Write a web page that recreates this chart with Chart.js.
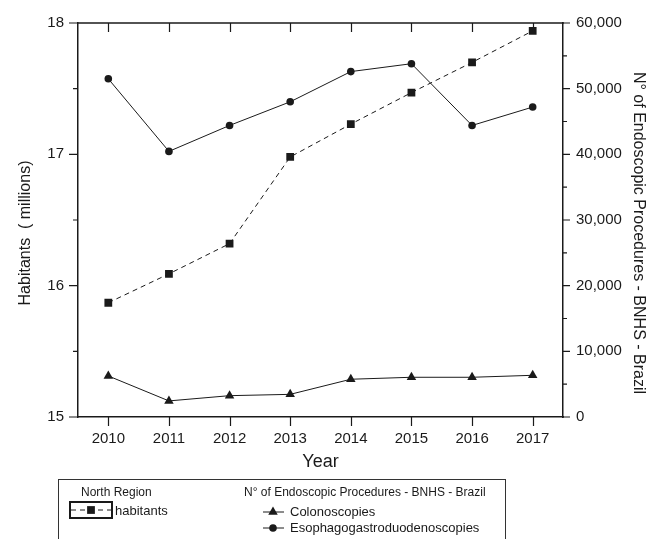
<!DOCTYPE html>
<html>
<head>
<meta charset="utf-8">
<script src="https://cdn.jsdelivr.net/npm/chart.js@4.4.1/dist/chart.umd.min.js"></script>
<style>
    html, body { margin: 0; padding: 0; background: #fff; }
    #wrap { width: 652px; height: 539px; }
</style>
</head>
<body>
<div id="wrap"><canvas id="chart" width="652" height="539"></canvas></div>
<script>
var years = ['2010', '2011', '2012', '2013', '2014', '2015', '2016', '2017'];
// North Region population, millions
var habitants = [15.87, 16.09, 16.32, 16.98, 17.23, 17.47, 17.70, 17.94];
// procedures per year (BNHS)
var colonoscopies = [6250, 2450, 3250, 3450, 5750, 6050, 6050, 6350];
var egd = [51500, 40450, 44400, 48000, 52600, 53800, 44400, 47200];

var leftMin = 15, leftMax = 18, leftStep = 1, leftMinor = 0.5;
var rightMin = 0, rightMax = 60000, rightStep = 10000, rightMinor = 5000;

var leftTitle = 'Habitants  ( millions)';
var rightTitle = 'N\u00b0 of Endoscopic Procedures - BNHS - Brazil';

(function () {
    var ink = '#1a1a1a';
    var fontFamily = '"Liberation Sans", Arial, sans-serif';

    function drawMarker(ctx, style, x, y, r) {
        ctx.beginPath();
        if (style === 'rect') {
            var s = Math.SQRT1_2 * r;
            ctx.rect(x - s, y - s, 2 * s, 2 * s);
        } else if (style === 'triangle') {
            ctx.moveTo(x, y - r);
            ctx.lineTo(x + r * 0.866, y + r / 2);
            ctx.lineTo(x - r * 0.866, y + r / 2);
            ctx.closePath();
        } else {
            ctx.arc(x, y, r, 0, Math.PI * 2);
        }
        ctx.fill();
    }

    // ticks on all four sides, with minor ticks on the y axes
    var frameTicks = {
        id: 'frameTicks',
        afterDraw: function (chart) {
            var ctx = chart.ctx;
            var a = chart.chartArea;
            var x = chart.scales.x, y = chart.scales.y, y1 = chart.scales.y1;
            ctx.save();
            ctx.strokeStyle = ink;
            ctx.lineWidth = 1.5;
            ctx.beginPath();
            ctx.moveTo(a.left - 0.75, a.top);
            ctx.lineTo(a.right + 0.75, a.top);
            ctx.stroke();

            ctx.lineWidth = 1.2;
            ctx.beginPath();
            years.forEach(function (yr, i) {
                var px = Math.round(x.getPixelForValue(i)) + 0.5;
                ctx.moveTo(px, a.bottom);
                ctx.lineTo(px, a.bottom + 9);
                ctx.moveTo(px, a.top);
                ctx.lineTo(px, a.top + 9);
            });
            var v, py, len;
            for (v = leftMin; v <= leftMax + 1e-9; v += leftMinor) {
                py = y.getPixelForValue(v);
                len = Math.abs(v % leftStep) < 1e-9 ? 9 : 5;
                ctx.moveTo(a.left - len, py);
                ctx.lineTo(a.left, py);
            }
            for (v = rightMin; v <= rightMax; v += rightMinor) {
                py = y1.getPixelForValue(v);
                len = v % rightStep === 0 ? 7 : 4;
                ctx.moveTo(a.right, py);
                ctx.lineTo(a.right + len, py);
            }
            ctx.stroke();

            // y axis titles sit a little below the middle of the plot
            var mid = (a.top + a.bottom) / 2 + 13;
            ctx.fillStyle = ink;
            ctx.font = '16px ' + fontFamily;
            ctx.textAlign = 'center';
            ctx.textBaseline = 'middle';
            ctx.save();
            ctx.translate(26, mid);
            ctx.rotate(-Math.PI / 2);
            ctx.fillText(leftTitle, 0, 0);
            ctx.restore();
            ctx.save();
            ctx.translate(638, mid);
            ctx.rotate(Math.PI / 2);
            ctx.fillText(rightTitle, 0, 0);
            ctx.restore();
            ctx.restore();
        }
    };

    // boxed legend under the x axis title
    var boxLegend = {
        id: 'boxLegend',
        afterDraw: function (chart) {
            var ctx = chart.ctx;
            var ds = chart.data.datasets;
            ctx.save();
            ctx.strokeStyle = '#333';
            ctx.lineWidth = 1;
            ctx.strokeRect(58.5, 479.5, 447, 70);

            ctx.fillStyle = ink;
            ctx.textBaseline = 'middle';
            ctx.textAlign = 'left';
            ctx.font = '12px ' + fontFamily;
            ctx.fillText('North Region', 81, 493);
            ctx.fillText(rightTitle, 244, 493);

            // habitants sample, framed
            ctx.lineWidth = 2;
            ctx.strokeStyle = ink;
            ctx.strokeRect(70, 502, 42, 16);
            ctx.lineWidth = 1;
            ctx.setLineDash(ds[0].borderDash);
            ctx.beginPath();
            ctx.moveTo(71, 510);
            ctx.lineTo(111, 510);
            ctx.stroke();
            ctx.setLineDash([]);
            drawMarker(ctx, ds[0].pointStyle, 91, 510, ds[0].pointRadius);

            var rows = [
                { d: ds[1], y: 512 },
                { d: ds[2], y: 528 }
            ];
            rows.forEach(function (r) {
                ctx.beginPath();
                ctx.moveTo(263, r.y);
                ctx.lineTo(284, r.y);
                ctx.stroke();
                drawMarker(ctx, r.d.pointStyle, 273, r.y, r.d.pointRadius);
            });

            ctx.font = '13px ' + fontFamily;
            ctx.fillText(ds[0].label, 115, 511);
            ctx.fillText(ds[1].label, 290, 512);
            ctx.fillText(ds[2].label, 290, 528);
            ctx.restore();
        }
    };

    var ctx = document.getElementById('chart').getContext('2d');
    new Chart(ctx, {
        type: 'line',
        data: {
            labels: years,
            datasets: [
                {
                    label: 'habitants',
                    data: habitants,
                    yAxisID: 'y',
                    borderColor: ink,
                    backgroundColor: ink,
                    borderWidth: 1,
                    borderDash: [5, 4],
                    pointStyle: 'rect',
                    pointRadius: 5.5,
                    pointBorderWidth: 0,
                    tension: 0
                },
                {
                    label: 'Colonoscopies',
                    data: colonoscopies,
                    yAxisID: 'y1',
                    borderColor: ink,
                    backgroundColor: ink,
                    borderWidth: 1,
                    pointStyle: 'triangle',
                    pointRadius: 5.5,
                    pointBorderWidth: 0,
                    tension: 0
                },
                {
                    label: 'Esophagogastroduodenoscopies',
                    data: egd,
                    yAxisID: 'y1',
                    borderColor: ink,
                    backgroundColor: ink,
                    borderWidth: 1,
                    pointStyle: 'circle',
                    pointRadius: 3.8,
                    pointBorderWidth: 0,
                    tension: 0
                }
            ]
        },
        options: {
            responsive: false,
            animation: false,
            devicePixelRatio: 1,
            locale: 'en-US',
            layout: { padding: { left: 0, right: 0, top: 21, bottom: 68 } },
            plugins: {
                legend: { display: false },
                tooltip: { enabled: false }
            },
            scales: {
                x: {
                    type: 'category',
                    offset: true,
                    grid: { display: false, drawTicks: false },
                    border: { display: true, color: ink, width: 1.5 },
                    ticks: {
                        color: ink,
                        padding: 13,
                        maxRotation: 0,
                        autoSkip: false,
                        font: { family: fontFamily, size: 15 }
                    },
                    title: {
                        display: true,
                        text: 'Year',
                        color: ink,
                        padding: { top: 0, bottom: 0 },
                        font: { family: fontFamily, size: 18, lineHeight: 1 }
                    },
                    afterFit: function (scale) { scale.height = 54; }
                },
                y: {
                    position: 'left',
                    min: leftMin,
                    max: leftMax,
                    grid: { display: false, drawTicks: false },
                    border: { display: true, color: ink, width: 1.5 },
                    ticks: {
                        stepSize: leftStep,
                        color: ink,
                        padding: 14,
                        font: { family: fontFamily, size: 15 }
                    },
                    afterFit: function (scale) { scale.width = 78; }
                },
                y1: {
                    position: 'right',
                    min: rightMin,
                    max: rightMax,
                    grid: { display: false, drawTicks: false },
                    border: { display: true, color: ink, width: 1.5 },
                    ticks: {
                        stepSize: rightStep,
                        color: ink,
                        padding: 13,
                        font: { family: fontFamily, size: 15 }
                    },
                    afterFit: function (scale) { scale.width = 89; }
                }
            }
        },
        plugins: [frameTicks, boxLegend]
    });
})();
</script>
</body>
</html>
